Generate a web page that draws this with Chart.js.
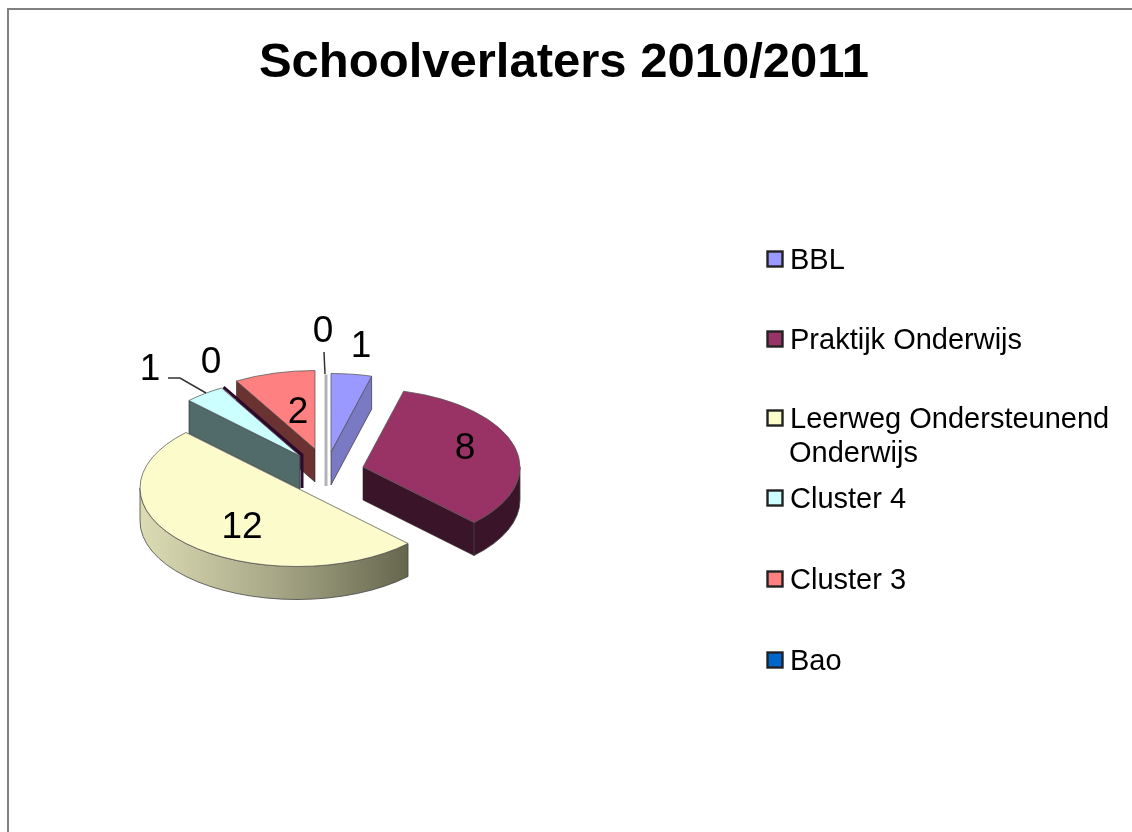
<!DOCTYPE html>
<html>
<head>
<meta charset="utf-8">
<style>html,body{margin:0;padding:0;background:#fff}canvas{display:block}</style>
<script src="https://cdn.jsdelivr.net/npm/chart.js@4"></script>
</head>
<body>
<canvas id="c" width="1132" height="832"></canvas>
<script>
const titleText = 'Schoolverlaters 2010/2011';
const categories = ['BBL','Praktijk Onderwijs','Leerweg Ondersteunend Onderwijs','Cluster 4','','Cluster 3','Bao'];
const values = [1,8,12,1,0,2,0];
const sliceColors = ['#9999ff','#993366','#fbfbcb','#ccffff','#660066','#ff8080','#0066cc'];
const wallColors = ['#7a7ac4','#3a1428','#6b6b50','#516a6a','#2c0a30','#6b3232','#b4b4b8'];
const rimStops = [null,['#3a1428','#3a1428'],['#dcdcb4','#a8a888','#66664e'],null,null,null,null];

// projection of the exploded 3-D pie
const pieCx = 320, pieCy = 470, pieRadius = 157, tilt = 0.5, depth = 33;
const explode = [[11,-18],[43,-3],[-23,18],[-20,-14],[-18,-15],[-5,-21],[6,-17]];
const labelOffset = [[30,-107],[102,-20],[-55,38],[-150,-88],[-91,-94],[-17,-38],[-3,-123]];
const leaders = {3:[[-132,-78],[-120,-78],[-94,-63]],6:[[-2,-101],[-1,-79]]};

// legend layout
const legendLines = [['BBL'],['Praktijk Onderwijs'],['Leerweg Ondersteunend','Onderwijs'],['Cluster 4'],[],['Cluster 3'],['Bao']];
const legendRowY = [259,339,418,498,null,579,660];
const legendBoxX = 767.5, legendTextX = 790, legendLineGap = 34, legendBox = 15;
const legendFont = '29px "Liberation Sans", Arial, sans-serif';
const labelFont = '37px "Liberation Sans", Arial, sans-serif';

let cx0 = 0, cy0 = 0;
const sx = a => a.x + (pieCx - cx0);
const sy = a => pieCy + (a.y - cy0) * tilt;

const pie3d = {
  id: 'pie3d',
  afterDatasetsUpdate(chart) {
    const arcs = chart.getDatasetMeta(0).data;
    cx0 = arcs[0].x; cy0 = arcs[0].y;
    arcs.forEach((a, i) => {
      a.x = cx0 + explode[i][0];
      a.y = cy0 + explode[i][1] / tilt;
    });
  },
  beforeDraw(chart) {
    const ctx = chart.ctx;
    ctx.save();
    ctx.strokeStyle = '#808080';
    ctx.lineWidth = 2;
    ctx.beginPath();
    ctx.moveTo(8, 832); ctx.lineTo(8, 9); ctx.lineTo(1132, 9);
    ctx.stroke();
    ctx.restore();
  },
  beforeDatasetsDraw(chart) {
    const ctx = chart.ctx;
    const arcs = chart.getDatasetMeta(0).data;
    const R = pieRadius;
    ctx.save();
    ctx.lineJoin = 'round';
    for (let i = arcs.length - 1; i >= 0; i--) {
      const a = arcs[i], X = sx(a), Y = sy(a);
      const oX = t => X + R * Math.cos(t), oY = t => Y + R * Math.sin(t) * tilt;
      const s = a.startAngle, e = a.endAngle;
      if (values[i] === 0) {
        ctx.strokeStyle = wallColors[i];
        ctx.lineWidth = 3;
        ctx.beginPath();
        ctx.moveTo(oX(s), oY(s)); ctx.lineTo(X, Y); ctx.lineTo(X, Y + depth);
        ctx.stroke();
        continue;
      }
      const face = t => {
        ctx.beginPath();
        ctx.moveTo(X, Y); ctx.lineTo(oX(t), oY(t));
        ctx.lineTo(oX(t), oY(t) + depth); ctx.lineTo(X, Y + depth);
        ctx.closePath();
        ctx.fillStyle = wallColors[i];
        ctx.strokeStyle = '#222';
        ctx.lineWidth = 0.6;
        ctx.fill(); ctx.stroke();
      };
      if (Math.cos(s) < -1e-6) face(s);
      if (Math.cos(e) > 1e-6) face(e);
      const r0 = Math.max(s, 0), r1 = Math.min(e, Math.PI);
      if (r1 > r0 && rimStops[i]) {
        const g = ctx.createLinearGradient(X - R, 0, oX(r0), 0);
        rimStops[i].forEach((c, k, l) => g.addColorStop(k / (l.length - 1), c));
        ctx.beginPath();
        ctx.ellipse(X, Y, R, R * tilt, 0, r0, r1);
        ctx.ellipse(X, Y + depth, R, R * tilt, 0, r1, r0, true);
        ctx.closePath();
        ctx.fillStyle = g;
        ctx.strokeStyle = '#444';
        ctx.lineWidth = 0.8;
        ctx.fill(); ctx.stroke();
      }
    }
    ctx.restore();
    ctx.save();
    ctx.translate(pieCx - cx0, pieCy);
    ctx.scale(1, tilt);
    ctx.translate(0, -cy0);
  },
  afterDatasetsDraw(chart) {
    const ctx = chart.ctx;
    ctx.restore();
    const arcs = chart.getDatasetMeta(0).data;
    ctx.save();
    ctx.strokeStyle = '#333';
    ctx.lineWidth = 1.5;
    Object.keys(leaders).forEach(k => {
      const a = arcs[k];
      ctx.beginPath();
      leaders[k].forEach((p, n) => {
        const x = sx(a) + p[0], y = sy(a) + p[1];
        n ? ctx.lineTo(x, y) : ctx.moveTo(x, y);
      });
      ctx.stroke();
    });
    ctx.fillStyle = '#000';
    ctx.font = labelFont;
    ctx.textAlign = 'center';
    ctx.textBaseline = 'middle';
    arcs.forEach((a, i) => {
      ctx.fillText(String(values[i]), sx(a) + labelOffset[i][0], sy(a) + labelOffset[i][1] + 2);
    });
    // legend
    ctx.textAlign = 'left';
    ctx.font = legendFont;
    categories.forEach((name, i) => {
      if (!name) return;
      const y = legendRowY[i];
      ctx.fillStyle = sliceColors[i];
      ctx.strokeStyle = '#222';
      ctx.lineWidth = 2.4;
      ctx.fillRect(legendBoxX, y - legendBox / 2, legendBox, legendBox);
      ctx.strokeRect(legendBoxX, y - legendBox / 2, legendBox, legendBox);
      ctx.fillStyle = '#000';
      legendLines[i].forEach((t, n) => ctx.fillText(t, legendTextX - (n ? 1 : 0), y + 2 + n * legendLineGap));
    });
    ctx.restore();
  }
};

new Chart(document.getElementById('c'), {
  type: 'pie',
  data: {
    labels: categories,
    datasets: [{
      data: values,
      backgroundColor: sliceColors,
      borderColor: '#555',
      borderWidth: 1,
      radius: pieRadius
    }]
  },
  options: {
    responsive: false,
    animation: false,
    layout: { padding: { top: 28, left: 0, right: 4 } },
    events: [],
    plugins: {
      legend: { display: false },
      tooltip: { enabled: false },
      title: {
        display: true,
        text: titleText,
        color: '#000',
        font: { family: '"Liberation Sans", Arial, sans-serif', size: 49, weight: 'bold' },
        padding: { top: 6, bottom: 10 }
      }
    }
  },
  plugins: [pie3d]
});
</script>
</body>
</html>
